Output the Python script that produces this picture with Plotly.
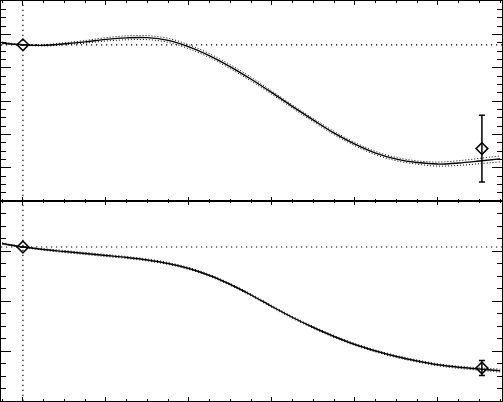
import plotly.graph_objects as go
from plotly.subplots import make_subplots

# ---- data ----
x_grid = [-0.25, 0.0, 0.25, 0.5, 0.75, 1.0, 1.25, 1.5, 1.75, 2.0, 2.25, 2.5, 2.75,
          3.0, 3.25, 3.5, 3.75, 4.0, 4.25, 4.5, 4.75, 5.0, 5.25, 5.5, 5.75]

top_model = [4.740, 4.686, 4.671, 4.716, 4.775, 4.850, 4.895, 4.901, 4.820, 4.626,
             4.356, 4.027, 3.653, 3.249, 2.829, 2.425, 2.036, 1.707, 1.437, 1.257,
             1.153, 1.108, 1.138, 1.198, 1.263]
top_upper = [4.770, 4.696, 4.691, 4.746, 4.815, 4.900, 4.955, 4.961, 4.880, 4.686,
             4.416, 4.087, 3.713, 3.299, 2.879, 2.475, 2.086, 1.757, 1.487, 1.307,
             1.203, 1.168, 1.208, 1.278, 1.353]
top_lower = [4.710, 4.676, 4.651, 4.686, 4.735, 4.800, 4.835, 4.841, 4.760, 4.566,
             4.296, 3.967, 3.593, 3.199, 2.779, 2.375, 1.986, 1.657, 1.387, 1.207,
             1.103, 1.048, 1.068, 1.118, 1.173]

bot_model = [3.150, 3.080, 3.030, 2.990, 2.950, 2.910, 2.870, 2.820, 2.750, 2.650,
             2.510, 2.330, 2.120, 1.890, 1.670, 1.470, 1.290, 1.130, 1.000, 0.890,
             0.800, 0.724, 0.674, 0.640, 0.606]
bot_upper = [3.165, 3.085, 3.045, 3.010, 2.970, 2.930, 2.890, 2.840, 2.770, 2.670,
             2.530, 2.350, 2.140, 1.910, 1.690, 1.490, 1.310, 1.150, 1.020, 0.910,
             0.820, 0.744, 0.696, 0.665, 0.636]
bot_lower = [3.135, 3.075, 3.015, 2.970, 2.930, 2.890, 2.850, 2.800, 2.730, 2.630,
             2.490, 2.310, 2.100, 1.870, 1.650, 1.450, 1.270, 1.110, 0.980, 0.870,
             0.780, 0.704, 0.652, 0.615, 0.576]

top_pts_x = [0.0, 5.53]
top_pts_y = [4.686, 1.572]
top_pts_err = [0.0, 1.0]

bot_pts_x = [0.0, 5.53]
bot_pts_y = [3.08, 0.66]
bot_pts_err = [0.0, 0.15]

ref_x = 0.0
ref_y_top = 4.686
ref_y_bot = 3.08

x_range = [-0.264, 5.772]
top_range = [0, 6]
bot_range = [0, 4]

# ---- figure ----
fig = make_subplots(rows=2, cols=1, shared_xaxes=True, vertical_spacing=0)

panels = [
    (1, top_model, top_upper, top_lower, top_pts_x, top_pts_y, top_pts_err, ref_y_top),
    (2, bot_model, bot_upper, bot_lower, bot_pts_x, bot_pts_y, bot_pts_err, ref_y_bot),
]

for row, model, up, lo, px, py, pe, ry in panels:
    for band in (up, lo):
        fig.add_trace(go.Scatter(x=x_grid, y=band, mode="lines",
                                 line=dict(color="black", width=1, dash="1px,2px", shape="spline"),
                                 showlegend=False, hoverinfo="skip"), row=row, col=1)
    fig.add_trace(go.Scatter(x=x_grid, y=model, mode="lines",
                             line=dict(color="black", width=1.4, shape="spline"),
                             showlegend=False), row=row, col=1)
    fig.add_hline(y=ry, line=dict(color="black", width=1.2, dash="1.2px,3.8px"), row=row, col=1)
    fig.add_vline(x=ref_x, line=dict(color="black", width=1.2, dash="1.2px,3.8px"), row=row, col=1)
    fig.add_trace(go.Scatter(x=px, y=py, mode="markers",
                             marker=dict(symbol="diamond-open", size=9, color="black",
                                         line=dict(color="black", width=1.5)),
                             error_y=dict(type="data", array=pe, visible=True,
                                          color="black", thickness=1.5, width=3),
                             showlegend=False), row=row, col=1)

xaxis_common = dict(range=x_range, showgrid=False, zeroline=False, showline=True,
                    linecolor="black", linewidth=1, mirror="ticks", ticks="inside",
                    ticklen=4, tickwidth=1, tickcolor="black", tick0=0, dtick=1,
                    showticklabels=False,
                    minor=dict(ticks="inside", ticklen=2, tickwidth=1, tickcolor="black",
                               dtick=0.25, tick0=0, showgrid=False))
fig.update_xaxes(**xaxis_common)

yaxis_common = dict(showgrid=False, zeroline=False, showline=True, linecolor="black",
                    linewidth=1, mirror="ticks", ticks="inside", ticklen=10, tickwidth=1,
                    tickcolor="black", tick0=0, dtick=1, showticklabels=False,
                    minor=dict(ticks="inside", ticklen=5, tickwidth=1, tickcolor="black",
                               dtick=0.25, tick0=0, showgrid=False))
fig.update_yaxes(range=top_range, **yaxis_common, row=1, col=1)
fig.update_yaxes(range=bot_range, **yaxis_common, row=2, col=1)

fig.update_layout(width=503, height=402, margin=dict(l=1, r=1, t=1, b=1),
                  paper_bgcolor="white", plot_bgcolor="white", showlegend=False)

fig.write_html("out.html", config={"displayModeBar": False},
               post_script="document.body.style.margin='0';document.body.style.padding='0';"
                           "document.body.style.overflow='hidden';")
